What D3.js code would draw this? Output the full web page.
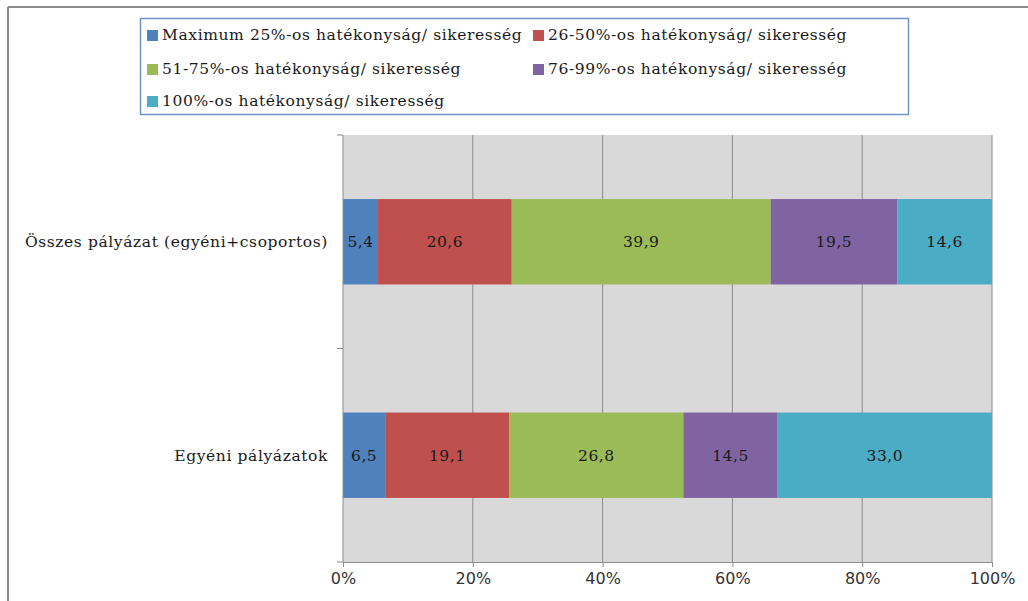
<!DOCTYPE html>
<html>
<head>
<meta charset="utf-8">
<script src="https://cdnjs.cloudflare.com/ajax/libs/d3/7.8.5/d3.min.js"></script>
<style>
  body { margin: 0; background: #fff; }
  svg { display: block; }
</style>
</head>
<body>
<svg id="chart" width="1028" height="601"></svg>
<script>
// data
var categories = ['Összes pályázat (egyéni+csoportos)', 'Egyéni pályázatok'];
var seriesNames = [
  'Maximum 25%-os hatékonyság/ sikeresség',
  '26-50%-os hatékonyság/ sikeresség',
  '51-75%-os hatékonyság/ sikeresség',
  '76-99%-os hatékonyság/ sikeresség',
  '100%-os hatékonyság/ sikeresség'
];
var osszesValues = [5.4, 20.6, 39.9, 19.5, 14.6];
var egyeniValues = [6.5, 19.1, 26.8, 14.5, 33.0];
var xTicks = [0, 0.2, 0.4, 0.6, 0.8, 1];
var colors = ['#4F81BD', '#C0504D', '#9BBB59', '#8064A2', '#4BACC6'];

var svg = d3.select('#chart');
var serif = "'DejaVu Serif', serif";

// outer frame (top + left lines)
svg.append('line').attr('x1', 8).attr('y1', 7).attr('x2', 1028).attr('y2', 7)
  .attr('stroke', '#8a8a8a').attr('stroke-width', 2);
svg.append('line').attr('x1', 8).attr('y1', 7).attr('x2', 8).attr('y2', 601)
  .attr('stroke', '#8a8a8a').attr('stroke-width', 2);

var plot = { left: 343, right: 992, top: 135, bottom: 562 };

var x = d3.scaleLinear().domain([0, 1]).range([plot.left, plot.right]);
var y = d3.scaleBand().domain(categories).range([plot.top, plot.bottom]).paddingInner(0.6).paddingOuter(0.3);

// plot background
svg.append('rect')
  .attr('x', plot.left).attr('y', plot.top)
  .attr('width', plot.right - plot.left).attr('height', plot.bottom - plot.top)
  .attr('fill', '#D9D9D9');

// gridlines
svg.append('g').selectAll('line')
  .data(xTicks.slice(1))
  .join('line')
  .attr('x1', d => x(d)).attr('x2', d => x(d))
  .attr('y1', plot.top).attr('y2', plot.bottom)
  .attr('stroke', '#8c8c8c').attr('stroke-width', 1);

// stacked bars
var rows = [osszesValues, egyeniValues];
rows.forEach(function (vals, i) {
  var total = d3.sum(vals);
  var cum = 0;
  var segs = vals.map(function (v, j) {
    var s = { v: v, x0: cum / total, x1: (cum + v) / total, c: colors[j] };
    cum += v;
    return s;
  });
  var g = svg.append('g');
  g.selectAll('rect').data(segs).join('rect')
    .attr('x', d => x(d.x0))
    .attr('width', d => x(d.x1) - x(d.x0))
    .attr('y', y(categories[i]))
    .attr('height', y.bandwidth())
    .attr('fill', d => d.c);
  g.selectAll('text').data(segs).join('text')
    .attr('x', d => (x(d.x0) + x(d.x1)) / 2)
    .attr('y', y(categories[i]) + y.bandwidth() / 2)
    .attr('dy', '0.35em')
    .attr('text-anchor', 'middle')
    .style('font-family', serif).style('font-size', '15.5px').style('letter-spacing', '0.5px')
    .attr('fill', '#1a1a1a')
    .text(d => d3.format('.1f')(d.v).replace('.', ','));
});

// x axis
var xAxis = svg.append('g')
  .attr('transform', 'translate(0,' + plot.bottom + ')')
  .call(d3.axisBottom(x).tickValues(xTicks).tickFormat(d3.format('.0%')).tickSize(5).tickSizeOuter(0));
xAxis.select('.domain').attr('stroke', '#8c8c8c');
xAxis.selectAll('line').attr('stroke', '#8c8c8c');
xAxis.selectAll('text')
  .attr('y', 11)
  .style('font-family', "'DejaVu Sans', sans-serif")
  .style('font-size', '16px').attr('fill', '#333');

// y axis
var yAxis = svg.append('g');
yAxis.append('line').attr('x1', plot.left).attr('x2', plot.left)
  .attr('y1', plot.top).attr('y2', plot.bottom).attr('stroke', '#8c8c8c');
var yTickPos = [plot.top, (plot.top + plot.bottom) / 2, plot.bottom];
yAxis.selectAll('line.t').data(yTickPos).join('line').attr('class', 't')
  .attr('x1', plot.left - 6).attr('x2', plot.left)
  .attr('y1', d => d).attr('y2', d => d).attr('stroke', '#8c8c8c');
yAxis.selectAll('text').data(categories).join('text')
  .attr('x', plot.left - 15)
  .attr('y', d => y(d) + y.bandwidth() / 2)
  .attr('dy', '0.35em')
  .attr('text-anchor', 'end')
  .style('font-family', serif).style('font-size', '15.5px').style('letter-spacing', '0.6px')
  .attr('fill', '#1a1a1a')
  .text(d => d);

// legend
var legend = svg.append('g');
legend.append('rect').attr('x', 140.5).attr('y', 18.5).attr('width', 768).attr('height', 96)
  .attr('fill', '#fff').attr('stroke', '#6b93cf').attr('stroke-width', 1.5);
var legendPos = [[147, 35], [533, 35], [147, 69], [533, 69], [147, 101]];
var items = legend.selectAll('g.item').data(seriesNames).join('g').attr('class', 'item')
  .attr('transform', (d, i) => 'translate(' + legendPos[i][0] + ',' + legendPos[i][1] + ')');
items.append('rect').attr('x', 0).attr('y', -5).attr('width', 11).attr('height', 11)
  .attr('fill', (d, i) => colors[i]);
items.append('text').attr('x', 15).attr('dy', '0.35em')
  .style('font-family', serif).style('font-size', '15.5px').style('letter-spacing', '0.6px')
  .attr('fill', '#1a1a1a')
  .text(d => d);
</script>
</body>
</html>
